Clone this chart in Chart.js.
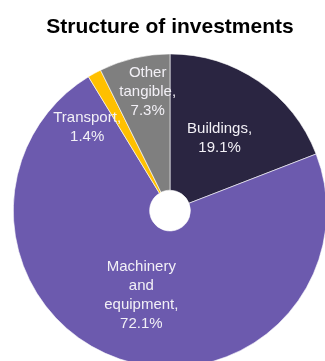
<!DOCTYPE html>
<html lang="en">
<head>
    <meta charset="UTF-8">
    <title>Structure of investments</title>
    <style>
        html, body {
            margin: 0;
            padding: 0;
            overflow: hidden;
            background-color: white;
        }
        canvas {
            display: block;
        }
    </style>
    <script src="https://cdn.jsdelivr.net/npm/chart.js"></script>
</head>
<body>
    <canvas id="investChart" width="340" height="370"></canvas>

    <script>
        const categories = ['Buildings', 'Machinery and equipment', 'Transport', 'Other tangible'];
        const shares = [19.1, 72.1, 1.4, 7.3];
        const sliceColors = ['#2a2541', '#6c5aae', '#ffc000', '#7f7f7f'];

        // where each label sits: fraction of the radius and a small angle nudge (degrees)
        const labelPlacement = [
            { r: 0.56, turn: 0 },
            { r: 0.57, turn: 0 },
            { r: 0.75, turn: -16 },
            { r: 0.77, turn: 2.5 }
        ];

        const FONT = "'Liberation Sans', Arial, sans-serif";

        function wrapWords(ctx, text, maxWidth) {
            const words = text.split(' ');
            const lines = [];
            let line = '';
            words.forEach(w => {
                const test = line ? line + ' ' + w : w;
                if (line && ctx.measureText(test).width > maxWidth) {
                    lines.push(line);
                    line = w;
                } else {
                    line = test;
                }
            });
            if (line) lines.push(line);
            return lines;
        }

        const sliceLabels = {
            id: 'sliceLabels',
            afterDatasetsDraw(chart) {
                const ctx = chart.ctx;
                const meta = chart.getDatasetMeta(0);
                ctx.save();
                ctx.font = '15px ' + FONT;
                ctx.fillStyle = '#f2f0f6';
                ctx.textAlign = 'center';
                ctx.textBaseline = 'middle';
                meta.data.forEach((arc, i) => {
                    const p = arc.getProps(['x', 'y', 'startAngle', 'endAngle', 'outerRadius'], true);
                    const place = labelPlacement[i];
                    const mid = (p.startAngle + p.endAngle) / 2 + place.turn * Math.PI / 180;
                    const r = p.outerRadius * place.r;
                    const cx = p.x + Math.cos(mid) * r;
                    const cy = p.y + Math.sin(mid) * r;
                    const lines = wrapWords(ctx, categories[i] + ',', 85);
                    lines.push(shares[i].toFixed(1) + '%');
                    const lh = 19;
                    const top = cy - (lines.length - 1) * lh / 2;
                    lines.forEach((t, k) => ctx.fillText(t, cx, top + k * lh));
                });
                ctx.restore();
            }
        };

        new Chart(document.getElementById('investChart').getContext('2d'), {
            type: 'doughnut',
            data: {
                labels: categories,
                datasets: [{
                    data: shares,
                    backgroundColor: sliceColors,
                    borderColor: '#ffffff',
                    borderWidth: 0.6
                }]
            },
            options: {
                responsive: false,
                animation: false,
                cutout: '13%',
                layout: {
                    padding: { left: 13, right: 13, top: 0, bottom: 2 }
                },
                plugins: {
                    legend: { display: false },
                    tooltip: { enabled: false },
                    title: {
                        display: true,
                        text: 'Structure of investments',
                        color: '#000000',
                        font: { family: FONT, size: 21, weight: 'bold' },
                        padding: { top: 15, bottom: 13 }
                    }
                }
            },
            plugins: [sliceLabels]
        });
    </script>
</body>
</html>
